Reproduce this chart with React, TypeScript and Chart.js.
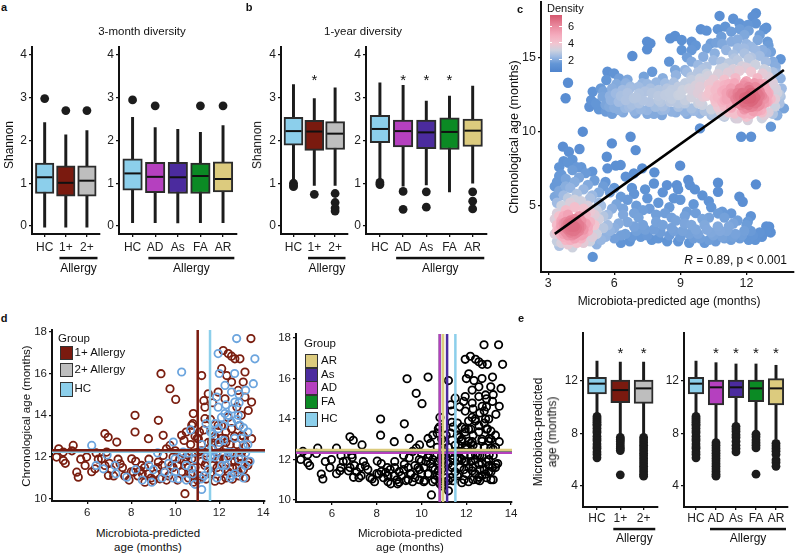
import React, { useEffect, useRef } from "react";
import { Chart, registerables } from "chart.js";

Chart.register(...registerables);

const FONT = '"Liberation Sans", Arial, Helvetica, sans-serif';

// ---------- categories & colours ----------
const overallCats = ["HC", "1+", "2+"];
const subtypeCats = ["HC", "AD", "As", "FA", "AR"];
const groupColor: Record<string, string> = {
  HC: "#8CCFEB",
  "1+": "#7A1A0F",
  "2+": "#BEBEBE",
  AD: "#B540BF",
  As: "#4B2B9E",
  FA: "#0B8A24",
  AR: "#DCCB7E",
};

// ---------- tick values ----------
const shannonTicks = [0, 1, 2, 3, 4];
const mpaTicks = [4, 8, 12];
const cTicksX = [3, 6, 9, 12];
const cTicksY = [5, 10, 15];
const dTicksX = [6, 8, 10, 12, 14];
const dTicksY = [10, 12, 14, 16, 18];
const densityTicks = [2, 4, 6];

// ---------- box stats: [whisker low, q1, median, q3, whisker high] ----------
const div3mOverall = [
  [-0.03, 0.76, 1.14, 1.47, 2.42],
  [-0.03, 0.7, 1.01, 1.41, 2.13],
  [-0.03, 0.7, 1.06, 1.41, 2.23],
];
const div3mOverallOut = [[2.98], [2.7], [2.7]];
const div3mSubtype = [
  [0.08, 0.84, 1.23, 1.57, 2.54],
  [0.08, 0.78, 1.15, 1.49, 2.3],
  [0.07, 0.76, 1.14, 1.49, 2.26],
  [0.08, 0.76, 1.17, 1.47, 2.19],
  [0.08, 0.8, 1.1, 1.5, 2.35],
];
const div3mSubtypeOut = [[2.95], [2.81], [], [2.81], [2.81]];

const div1yOverall = [
  [1.11, 1.89, 2.22, 2.54, 3.31],
  [0.95, 1.77, 2.21, 2.47, 2.98],
  [0.95, 1.79, 2.16, 2.44, 3.23],
];
const div1yOverallOut = [[1.0, 0.95, 0.92], [0.74], [0.76, 0.55, 0.42, 0.35]];
const div1yOverallSig = [1];
const div1ySubtype = [
  [1.1, 1.95, 2.27, 2.59, 3.35],
  [0.93, 1.85, 2.22, 2.48, 3.29],
  [0.96, 1.81, 2.19, 2.48, 2.92],
  [0.8, 1.79, 2.2, 2.53, 3.04],
  [1.0, 1.86, 2.23, 2.5, 3.27],
];
const div1ySubtypeOut = [[1.02, 0.97], [0.81, 0.39], [0.8, 0.44], [], [0.8, 0.58, 0.4]];
const div1ySubtypeSig = [1, 2, 3];

const mpaOverall = [
  [9.46, 11.01, 11.8, 12.28, 13.52],
  [7.85, 10.35, 11.31, 12.08, 13.45],
  [7.9, 10.3, 11.44, 12.08, 13.45],
];
const mpaOverallOut = [
  [9.3, 9.15, 9.0, 8.85, 8.7, 8.6, 8.4, 8.2, 8.05, 7.8, 7.6, 7.45, 7.2, 7.0, 6.85, 6.6, 6.4, 6.15],
  [7.7, 7.55, 7.4, 7.2, 7.0, 6.85, 6.7, 4.85],
  [7.7, 7.5, 7.3, 7.1, 6.9, 6.7, 6.5, 6.3, 6.1, 5.9, 5.7, 5.5, 5.3, 5.1, 4.9, 4.75],
];
const mpaOverallSig = [1, 2];
const mpaSubtype = [
  [9.46, 11.01, 11.8, 12.28, 13.52],
  [7.5, 10.17, 11.52, 12.08, 13.4],
  [8.8, 10.73, 11.52, 12.08, 13.3],
  [8.1, 10.43, 11.44, 12.08, 13.3],
  [7.6, 10.17, 11.44, 12.18, 13.2],
];
const mpaSubtypeOut = [
  [9.3, 9.15, 9.0, 8.85, 8.7, 8.6, 8.4, 8.2, 8.05, 7.8, 7.6, 7.45, 7.2, 7.0, 6.85, 6.6, 6.4, 6.15],
  [7.3, 7.1, 6.9, 6.7, 6.5, 6.3, 6.1, 5.9, 5.7, 5.5, 5.3, 5.1, 4.9, 4.75],
  [8.55, 8.35, 8.15, 7.9, 7.7, 7.4, 7.1, 6.85, 6.6],
  [7.95, 7.75, 7.5, 7.3, 7.1, 6.9, 4.9],
  [7.25, 7.05, 6.85, 6.65, 6.4, 6.0, 5.8, 5.5],
];
const mpaSubtypeSig = [1, 2, 3, 4];

// ---------- panel c: [microbiota-predicted age, chronological age] ----------
const cScatter: [number, number][] = [
  [12.43, 17.97], [12.28, 17.74], [10.78, 17.79], [11.68, 17.29], [12.06, 17.18], [12.43, 17.29], [12.81, 16.89],
  [9.93, 16.89], [10.19, 16.8], [11.04, 17.07], [11.31, 16.73], [11.91, 16.51], [10.86, 16.39], [8.76, 16.44],
  [9.06, 16.17], [7.49, 16.06], [7.64, 15.94], [9.51, 16.06], [8.54, 16.28], [10.38, 15.94], [10.63, 15.99],
  [11.31, 16.06], [12.51, 16.17], [12.96, 16.06], [9.51, 15.49], [9.06, 15.49], [13.11, 15.38], [13.55, 14.87],
  [6.82, 15.09], [7.49, 15.54], [8.49, 14.71], [10.04, 15.04], [10.56, 15.27], [11.08, 15.49], [11.61, 15.61],
  [12.21, 15.72], [12.73, 15.49], [11.91, 15.27], [10.86, 14.71], [11.46, 14.93], [12.21, 15.0], [12.88, 14.71],
  [13.33, 14.37], [9.51, 14.71], [9.81, 14.48], [9.21, 14.15], [10.19, 14.37], [8.76, 14.15], [13.55, 13.58],
  [13.4, 13.92], [11.6, 16.2], [12.0, 15.9], [12.6, 15.1], [11.2, 14.6], [12.4, 14.5], [11.8, 14.4], [10.5, 14.8],
  [13.0, 15.8], [12.9, 17.0], [11.4, 17.6],
  [9.3, 15.0], [9.7, 15.8], [10.2, 15.6], [10.9, 15.9], [11.4, 15.2], [11.9, 15.6], [12.4, 15.5], [12.9, 15.3],
  [13.2, 14.7], [12.1, 16.8], [11.7, 16.9], [10.7, 16.9], [12.6, 16.5], [10.0, 14.2], [11.0, 14.3], [11.6, 14.8],
  [12.1, 14.9], [12.9, 14.1],
  [3.9, 13.29], [3.79, 12.24], [5.69, 14.03], [5.99, 13.92], [6.22, 13.58], [5.64, 13.47], [6.52, 13.25],
  [5.39, 12.91], [5.02, 12.69], [4.95, 12.12], [4.87, 11.67], [5.17, 11.9], [5.47, 12.35], [5.84, 12.12],
  [6.07, 12.57], [6.37, 12.8], [6.74, 13.02], [7.34, 13.7], [7.72, 14.03], [7.27, 13.25], [7.64, 12.91],
  [6.52, 12.12], [6.89, 12.24], [7.12, 11.9], [6.67, 11.67], [6.22, 11.45], [5.62, 11.34], [5.77, 11.67],
  [7.49, 11.45], [8.01, 12.12], [8.31, 12.46], [8.61, 12.8], [8.91, 13.02], [9.21, 13.25], [9.51, 13.47],
  [9.89, 13.58], [10.26, 13.74], [10.71, 13.88], [11.16, 13.97], [11.68, 14.1], [12.21, 14.03], [12.73, 13.92],
  [13.11, 13.47], [13.33, 12.91], [13.55, 12.35], [13.7, 11.56], [12.96, 12.01], [12.66, 11.45], [12.21, 11.67],
  [11.91, 12.01], [11.61, 12.35], [11.31, 12.57], [11.01, 12.12], [10.71, 11.67], [10.56, 12.24], [10.34, 12.8],
  [10.04, 12.35], [9.81, 11.9], [9.51, 11.56], [9.21, 12.12], [8.91, 11.67], [8.54, 12.01], [8.16, 11.45],
  [7.87, 11.67], [8.61, 11.34], [9.21, 11.34], [9.89, 11.22], [10.41, 11.11], [11.01, 11.11], [11.46, 11.22],
  [11.91, 11.22], [12.36, 11.34], [12.81, 11.11], [12.06, 10.78], [11.61, 10.89], [12.13, 12.8], [12.51, 12.57],
  [11.91, 13.25], [11.46, 13.25], [11.01, 13.13], [10.71, 13.13], [12.36, 13.25], [12.81, 13.02], [12.96, 12.46],
  [11.01, 12.8], [12.21, 12.24], [11.76, 11.79], [11.31, 11.67], [9.89, 13.02], [9.51, 12.8], [8.91, 12.46],
  [8.01, 12.8], [8.31, 13.25], [7.12, 12.57], [13.11, 10.33], [11.76, 9.65], [12.21, 9.65], [9.89, 10.21],
  [6.97, 11.22], [8.16, 11.11],
  [5.9, 12.9], [6.1, 13.2], [6.3, 12.4], [6.5, 11.6], [6.7, 12.9], [6.9, 11.4], [7.1, 13.0], [7.3, 12.1],
  [7.5, 11.2], [7.7, 12.6], [7.9, 13.3], [8.1, 12.0], [8.3, 11.5], [8.5, 12.6], [8.7, 13.3], [8.9, 11.9],
  [9.1, 12.8], [9.3, 11.2], [9.5, 12.3], [9.7, 13.1], [9.9, 12.0], [10.1, 11.4], [10.3, 12.6], [10.5, 13.5],
  [10.7, 12.3], [10.9, 11.1], [5.3, 11.5], [5.5, 12.7], [5.9, 11.2], [6.6, 13.5], [7.5, 13.2], [8.2, 13.6],
  [8.8, 13.8], [9.3, 14.0], [9.8, 14.0], [10.2, 13.9], [10.8, 14.2], [11.4, 14.2], [12.0, 14.3], [12.8, 14.2],
  [13.2, 14.0],
  [10.6, 12.0], [10.8, 11.4], [10.9, 12.7], [11.0, 11.0], [11.1, 12.2], [11.2, 13.2], [11.3, 11.6], [11.4, 12.5],
  [11.5, 10.9], [11.6, 11.9], [11.7, 12.9], [11.8, 11.3], [11.9, 12.3], [12.0, 13.4], [12.0, 11.0], [12.1, 11.8],
  [12.2, 12.6], [12.3, 11.4], [12.3, 12.1], [12.4, 13.0], [12.5, 11.7], [12.6, 12.4], [12.7, 10.9], [12.8, 11.9],
  [12.9, 12.8], [13.0, 11.3], [13.1, 12.2], [13.2, 13.3], [13.3, 11.7], [13.4, 12.6], [13.5, 11.9], [12.2, 12.0],
  [12.4, 12.3], [12.1, 12.4], [12.5, 12.0], [11.9, 11.9], [12.6, 11.8], [12.3, 11.7], [12.0, 12.2], [11.8, 12.6],
  [12.7, 12.4], [10.7, 13.0], [11.0, 13.5], [11.5, 13.6], [12.5, 13.6], [13.0, 13.7], [10.4, 11.5], [10.2, 12.4],
  [10.0, 11.8], [9.8, 12.6], [9.6, 11.4], [9.4, 12.9], [9.2, 11.9], [9.0, 12.5], [8.8, 11.3], [8.6, 12.2],
  [8.4, 12.9], [8.2, 11.7], [8.0, 12.4], [7.8, 11.2], [7.6, 12.0], [7.4, 12.7], [7.2, 11.5], [7.0, 12.3],
  [6.8, 11.8], [6.6, 12.6], [6.4, 11.3], [6.2, 12.0], [6.0, 11.6], [5.8, 12.4], [5.6, 11.8], [10.3, 13.2],
  [9.9, 13.4], [9.5, 13.7], [10.6, 12.8], [10.5, 11.2], [11.2, 11.3], [13.4, 11.1], [13.6, 12.9], [12.8, 13.2],
  [12.2, 12.3], [12.4, 11.9], [12.0, 11.6], [12.6, 12.7], [11.7, 12.4], [12.3, 12.6], [12.5, 11.4], [11.9, 11.5],
  [12.8, 12.2], [12.1, 13.0],
  [11.0, 11.7], [11.3, 12.9], [11.6, 12.6], [11.9, 13.1], [12.2, 11.2], [12.5, 12.9], [12.7, 11.3], [13.0, 12.6],
  [13.2, 11.2], [13.3, 12.2], [11.5, 12.2], [11.1, 12.6], [10.9, 12.0], [12.9, 12.0], [12.6, 13.2], [13.5, 12.5],
  [4.57, 9.99], [3.67, 8.98], [3.94, 8.64], [4.42, 8.82], [5.89, 9.2], [6.74, 9.65], [6.97, 8.75], [8.99, 7.7],
  [7.82, 7.25], [7.27, 7.52], [6.07, 7.7], [6.29, 7.74], [5.69, 7.52], [5.66, 8.3], [6.52, 6.96], [6.89, 7.18],
  [9.36, 6.73], [9.43, 6.39], [8.84, 6.39], [8.39, 6.39], [9.66, 6.1], [10.71, 5.94], [10.29, 5.31], [10.71, 4.48],
  [11.31, 4.48], [11.68, 5.61], [11.83, 5.27], [12.43, 6.44], [10.71, 6.55], [12.06, 3.92], [13.03, 3.58],
  [12.88, 3.25], [5.02, 1.55],
  [3.3, 3.1], [3.4, 2.6], [3.5, 3.4], [3.6, 4.0], [3.7, 2.9], [3.8, 3.6], [3.9, 2.4], [4.0, 3.2], [4.1, 3.9],
  [4.2, 2.8], [4.3, 3.5], [4.4, 4.3], [4.5, 3.0], [4.6, 2.5], [4.7, 3.8], [4.8, 3.3], [4.9, 4.6], [5.0, 2.9],
  [5.1, 3.7], [5.2, 3.1], [5.3, 4.1], [5.4, 2.7], [5.5, 3.5], [3.4, 4.5], [3.6, 5.0], [3.8, 4.7], [4.0, 5.2],
  [4.2, 4.9], [4.5, 5.3], [4.8, 5.0], [3.3, 5.6], [3.5, 6.0], [3.7, 5.7], [4.0, 6.2], [4.3, 5.8], [4.6, 6.1],
  [5.0, 5.7], [5.3, 5.2], [3.4, 6.6], [3.6, 7.1], [3.8, 6.8], [4.1, 7.4], [4.4, 6.9], [4.7, 7.2], [5.1, 6.7],
  [3.5, 7.6], [3.9, 7.9], [4.3, 7.6], [3.3, 6.3], [5.5, 6.3], [5.8, 5.9], [3.6, 3.0], [3.9, 3.4], [4.1, 3.6],
  [4.0, 3.8], [3.8, 3.2], [4.2, 3.3], [3.7, 3.8], [4.4, 3.7], [4.6, 3.4], [3.5, 2.3], [4.1, 2.2], [4.9, 2.6],
  [5.2, 2.4], [3.9, 3.6], [4.2, 3.6], [4.0, 3.4], [3.8, 3.9], [4.3, 3.2], [4.1, 3.0], [3.7, 3.4], [4.5, 3.6],
  [3.6, 3.6], [4.0, 4.0], [4.4, 3.3], [3.9, 3.0],
  [3.5, 3.2], [3.7, 3.1], [3.9, 3.8], [4.1, 3.3], [4.3, 3.9], [4.2, 3.1], [3.8, 3.5], [4.0, 3.6], [4.4, 3.5],
  [3.6, 3.8], [4.6, 3.1], [4.2, 4.1], [3.7, 4.3], [4.5, 2.8], [3.4, 3.3], [4.8, 3.6], [4.0, 2.7], [3.9, 4.4],
  [3.4, 3.7], [3.5, 4.3], [3.3, 4.1], [3.6, 2.5], [3.8, 2.7], [4.3, 2.5], [4.5, 4.0], [4.7, 4.4], [4.9, 3.9],
  [5.1, 4.4], [4.6, 4.8], [5.2, 4.7], [5.5, 4.3], [5.4, 5.0], [5.7, 3.7], [5.6, 2.9], [3.4, 5.2], [3.9, 5.5],
  [4.2, 5.4], [4.9, 5.5], [5.3, 5.9], [3.8, 6.3], [4.2, 6.6], [4.8, 6.4], [3.5, 7.0], [4.5, 7.6], [5.0, 7.3],
  [3.7, 8.0], [4.1, 8.1],
  [5.8, 3.3], [6.0, 2.8], [6.2, 3.8], [6.4, 4.4], [6.5, 3.1], [6.7, 2.6], [6.9, 3.6], [7.1, 4.2], [7.2, 2.9],
  [7.4, 3.4], [7.6, 4.8], [7.7, 2.7], [7.9, 3.9], [8.1, 3.2], [8.3, 4.5], [8.4, 2.6], [8.6, 3.5], [8.8, 4.0],
  [9.0, 2.9], [9.1, 3.3], [9.3, 4.6], [9.5, 3.7], [9.6, 2.8], [9.8, 3.1], [10.0, 4.1], [10.2, 3.4], [10.3, 2.7],
  [10.5, 3.0], [10.7, 3.6], [10.9, 2.9], [11.1, 3.3], [11.3, 2.7], [11.5, 3.1], [11.7, 2.8], [11.9, 3.3],
  [12.1, 2.7], [12.3, 3.0], [12.6, 3.2], [12.9, 3.6], [6.1, 5.1], [6.6, 5.4], [7.0, 5.0], [7.5, 5.5], [8.0, 5.2],
  [8.5, 4.9], [9.0, 5.4], [9.7, 4.5], [10.4, 4.9], [11.0, 4.2], [8.2, 5.9], [5.7, 4.4], [6.3, 2.5], [5.9, 4.8],
  [10.1, 2.5], [9.4, 2.5], [11.6, 4.0], [12.0, 3.7], [8.9, 6.1], [7.8, 6.5], [6.8, 6.2], [5.6, 6.6],
  [6.0, 3.5], [6.3, 3.0], [6.6, 3.9], [6.8, 2.9], [7.0, 3.3], [7.3, 3.7], [7.5, 3.0], [7.8, 3.4], [8.0, 2.8],
  [8.2, 3.7], [8.5, 3.0], [8.7, 3.3], [8.9, 2.6], [9.2, 3.8], [9.4, 3.1], [9.7, 3.4], [9.9, 2.8], [10.1, 3.7],
  [10.4, 3.2], [10.6, 2.6], [10.8, 3.3], [11.0, 2.8], [11.2, 3.6], [11.4, 2.9], [11.8, 3.0], [12.2, 3.3],
  [12.4, 2.7], [12.7, 2.9], [6.4, 4.8], [6.9, 4.5], [7.3, 4.7], [7.9, 4.4], [8.6, 4.2], [9.2, 4.3], [10.3, 4.2],
  [10.9, 4.6], [11.4, 3.8], [12.2, 4.3], [13.1, 3.2], [6.0, 6.2], [6.3, 5.6], [6.9, 5.8], [7.4, 6.1], [8.7, 5.5],
  [9.6, 5.1], [10.0, 5.7],
];
const cFit: [number, number][] = [[3.3, 3.1], [13.7, 14.15]];
const cStat = "= 0.89, p < 0.001";

// ---------- panel d: [microbiota-predicted age, chronological age] ----------
const dAllergy: [number, number][] = [
  [13.44, 17.67], [12.18, 17.1], [12.56, 16.83], [12.71, 16.7], [12.94, 16.7], [12.41, 16.95], [9.35, 15.99],
  [9.76, 15.27], [10.02, 14.76], [11.5, 15.03], [11.2, 15.9], [12.34, 15.9], [13.17, 16.07], [13.09, 15.59],
  [12.11, 16.23], [12.56, 15.59], [12.86, 15.19], [11.95, 15.11], [12.26, 14.79], [13.17, 14.87], [13.47, 14.63],
  [13.32, 14.23], [8.17, 14.0], [9.23, 13.76], [8.17, 13.2], [6.8, 13.12], [6.95, 12.95], [7.34, 12.72],
  [8.78, 12.88], [9.45, 13.04], [9.76, 12.56], [10.29, 13.04], [10.75, 13.52], [10.82, 14.08], [11.35, 13.84],
  [11.35, 14.39], [11.65, 13.2], [11.95, 13.52], [12.56, 13.36], [13.02, 13.04], [13.47, 12.88], [5.36, 12.56],
  [4.91, 12.24], [4.91, 11.84], [5.52, 11.28], [5.59, 11.04], [5.97, 12.0], [6.65, 11.92], [6.88, 12.24],
  [6.35, 11.44], [6.96, 11.12], [7.49, 11.68], [8.02, 11.92], [8.09, 11.28], [8.47, 11.6], [8.78, 11.2],
  [9.0, 10.88], [9.3, 10.96], [8.62, 10.8], [8.4, 11.36], [9.23, 11.76], [9.45, 12.08], [9.84, 11.6],
  [10.29, 11.28], [10.44, 10.25], [10.82, 10.8], [10.75, 11.92], [11.05, 12.24], [11.35, 11.6], [11.65, 11.28],
  [11.95, 11.92], [12.26, 11.44], [12.56, 11.76], [12.86, 11.28], [11.65, 12.72], [11.95, 12.56], [12.26, 12.88],
  [11.05, 12.88], [13.02, 12.24], [13.32, 11.76],
  [10.3, 11.3], [10.5, 12.0], [10.6, 11.0], [10.7, 12.6], [10.9, 11.5], [11.0, 12.9], [11.1, 11.1], [11.2, 12.3],
  [11.3, 13.3], [11.4, 11.7], [11.5, 12.7], [11.6, 11.2], [11.7, 12.1], [11.8, 13.0], [11.9, 11.5], [12.0, 12.5],
  [12.1, 10.9], [12.2, 11.9], [12.3, 13.2], [12.4, 11.3], [12.5, 12.2], [12.6, 10.95], [12.7, 11.8], [12.8, 12.6],
  [12.9, 11.1], [13.0, 12.0], [13.1, 11.4], [13.2, 12.5], [13.3, 11.6], [10.8, 13.6], [11.6, 13.8], [12.4, 13.9],
  [10.4, 12.8], [10.2, 11.9], [11.0, 10.9], [11.8, 10.85], [12.3, 12.7], [12.9, 13.5], [11.4, 12.2], [12.1, 12.9],
  [10.6, 11.5], [11.2, 11.8], [12.6, 11.5], [13.1, 13.0], [10.0, 12.3], [9.7, 11.1], [9.9, 11.5], [10.1, 10.9],
  [9.5, 11.3], [9.6, 12.4], [9.2, 11.5], [8.9, 11.0], [8.6, 11.5], [8.3, 11.1], [8.0, 11.3], [7.7, 11.1],
  [7.4, 11.9], [7.1, 11.4], [6.8, 11.6], [6.5, 11.9], [6.2, 11.3], [5.7, 11.9], [5.3, 12.3], [5.0, 11.7],
  [4.7, 12.4], [4.6, 12.0],
  [7.2, 11.1], [7.6, 11.5], [7.9, 10.9], [8.2, 11.8], [8.5, 11.2], [8.8, 11.9], [9.1, 11.2], [9.4, 11.6],
  [9.6, 10.9], [9.9, 12.0], [10.1, 11.6], [10.4, 11.8], [10.7, 11.2], [10.9, 12.2], [11.1, 13.2], [11.4, 10.95],
  [11.7, 11.6], [12.0, 11.9], [12.3, 11.0], [12.5, 12.6], [12.8, 11.5], [13.0, 11.7], [13.2, 11.0], [12.2, 12.2],
  [11.5, 12.4], [10.9, 13.0], [11.8, 12.9], [12.7, 13.0], [12.1, 13.5], [11.3, 14.7], [12.8, 14.4], [13.0, 14.0],
  [11.7, 14.6], [10.5, 13.2], [7.0, 11.7], [6.4, 12.2], [5.9, 11.6],
];
const dHC: [number, number][] = [
  [12.79, 17.67], [11.95, 16.95], [13.62, 16.7], [10.29, 16.07], [13.55, 15.51], [12.26, 15.43], [12.56, 15.11],
  [11.88, 14.87], [12.71, 14.63], [11.95, 14.39], [12.26, 14.08], [12.86, 14.0], [12.56, 13.67], [12.94, 13.52],
  [11.95, 13.36], [6.2, 12.56], [7.79, 11.04], [8.93, 10.8], [9.53, 11.28], [9.99, 11.92], [9.91, 12.72],
  [10.36, 12.24], [10.75, 11.44], [11.2, 10.96], [11.2, 10.45], [11.8, 12.0], [12.11, 11.6], [12.56, 11.12],
  [13.09, 12.56], [13.17, 11.6], [13.4, 11.8], [11.65, 12.4], [12.41, 12.24], [6.73, 11.44], [7.26, 11.6],
  [10.14, 10.96],
  [10.6, 12.2], [10.9, 11.9], [11.2, 12.6], [11.5, 11.4], [11.7, 13.1], [11.9, 12.2], [12.0, 11.3], [12.2, 13.5],
  [12.4, 12.0], [12.5, 11.0], [12.7, 12.9], [12.8, 13.8], [12.9, 11.9], [13.0, 12.9], [13.1, 11.0], [13.2, 12.2],
  [12.3, 14.5], [12.6, 14.3], [12.9, 14.6], [12.1, 13.9], [11.6, 12.0], [11.3, 11.1], [10.8, 11.2], [10.5, 10.9],
  [10.3, 12.1], [10.0, 11.3], [9.7, 11.7], [9.4, 11.0], [9.2, 12.2], [8.8, 11.6], [8.5, 10.9], [8.2, 11.4],
  [7.3, 11.2], [6.9, 12.1], [6.4, 11.6], [13.3, 12.6], [12.0, 12.7], [11.4, 13.6], [10.7, 13.3],
  [11.9, 11.0], [12.3, 11.6], [12.7, 11.2], [13.0, 11.4], [12.6, 12.2], [12.2, 12.8], [11.8, 13.6], [13.1, 13.4],
  [12.4, 14.0], [13.3, 13.2], [11.4, 12.0], [10.9, 10.7], [10.5, 11.6], [9.9, 11.0], [9.0, 11.4], [12.9, 15.0],
  [13.2, 15.2], [12.0, 16.0], [12.7, 16.0], [11.6, 13.2],
];
// group means (reference lines)
const dLeftMeansX = [
  { v: 11.02, c: "#7A1A0F" },
  { v: 11.58, c: "#8CCFEB" },
];
const dLeftMeansY = [
  { v: 12.26, c: "#8CCFEB" },
  { v: 12.33, c: "#7A1A0F" },
];
const dRightMeansX = [
  { v: 11.51, c: "#8CCFEB" },
  { v: 11.14, c: "#4B2B9E" },
  { v: 10.82, c: "#0B8A24" },
  { v: 10.81, c: "#B540BF" },
  { v: 10.96, c: "#DCCB7E" },
];
const dRightMeansY = [
  { v: 12.36, c: "#8CCFEB" },
  { v: 12.4, c: "#4B2B9E" },
  { v: 12.38, c: "#0B8A24" },
  { v: 12.33, c: "#B540BF" },
  { v: 12.47, c: "#DCCB7E" },
];

// density colour scale
const densityStops: [number, string][] = [
  [0.5, "#4F84CD"],
  [1.5, "#6396D6"],
  [2.3, "#9BB9E2"],
  [3.1, "#CDD2DF"],
  [3.9, "#F2C5D0"],
  [4.9, "#F5ACBE"],
  [6.0, "#EA8A9F"],
  [7.32, "#D5576E"],
];

// ---------- helpers ----------
function hexToRgb(h: string) {
  const n = parseInt(h.slice(1), 16);
  return [(n >> 16) & 255, (n >> 8) & 255, n & 255];
}
function densityColor(v: number) {
  const s = densityStops;
  if (v <= s[0][0]) return s[0][1];
  if (v >= s[s.length - 1][0]) return s[s.length - 1][1];
  for (let i = 0; i < s.length - 1; i++) {
    if (v >= s[i][0] && v <= s[i + 1][0]) {
      const t = (v - s[i][0]) / (s[i + 1][0] - s[i][0]);
      const a = hexToRgb(s[i][1]);
      const b = hexToRgb(s[i + 1][1]);
      const c = a.map((x, k) => Math.round(x + (b[k] - x) * t));
      return `rgb(${c[0]},${c[1]},${c[2]})`;
    }
  }
  return s[0][1];
}
function pointDensity(pts: [number, number][]) {
  const sx = 22.3;
  const sy = 14.85;
  const s2 = 2 * 16 * 16;
  const raw = pts.map(([x1, y1]) =>
    pts.reduce((acc, [x2, y2]) => {
      const dx = (x1 - x2) * sx;
      const dy = (y1 - y2) * sy;
      return acc + Math.exp(-(dx * dx + dy * dy) / s2);
    }, 0)
  );
  const lo = Math.min(...raw);
  const hi = Math.max(...raw);
  return raw.map((r) => 1 + 6.1 * Math.pow((r - lo) / (hi - lo), 1.7));
}

function linAxis(min: number, max: number, ticks: number[], label: (v: number, i: number) => string, size: number, pad: number) {
  return {
    type: "linear",
    min,
    max,
    bounds: "data",
    offset: false,
    afterBuildTicks: (s: any) => {
      s.ticks = ticks.map((v) => ({ value: v }));
    },
    ticks: {
      autoSkip: false,
      maxRotation: 0,
      minRotation: 0,
      padding: pad,
      color: "#1e1e1e",
      font: { family: FONT, size },
      callback: (v: any, i: number) => label(Number(v), i),
    },
    grid: { drawOnChartArea: false, drawTicks: true, tickLength: 3, color: "#111", lineWidth: 1.3, offset: false },
    border: { display: true, color: "#111", width: 2 },
  };
}

type Geo = { L: number; T: number; R: number; B: number; yW: number; xH: number; below: number; right: number };

function ChartBox({ geo, build }: { geo: Geo; build: () => any }) {
  const ref = useRef<HTMLCanvasElement | null>(null);
  const left = geo.L - geo.yW;
  const top = geo.T - 12;
  const width = geo.R + geo.right - left;
  const height = geo.B + geo.xH + geo.below - top;
  useEffect(() => {
    if (!ref.current) return;
    const cfg = build();
    cfg.options = cfg.options || {};
    cfg.options.responsive = false;
    cfg.options.maintainAspectRatio = false;
    cfg.options.animation = false;
    cfg.options.events = [];
    cfg.options.layout = { padding: { top: 12, left: 0, right: geo.right, bottom: geo.below } };
    cfg.options.scales.x.afterFit = (s: any) => {
      s.height = geo.xH;
    };
    cfg.options.scales.y.afterFit = (s: any) => {
      s.width = geo.yW;
    };
    cfg.options.plugins = { legend: { display: false }, tooltip: { enabled: false } };
    const chart = new Chart(ref.current, cfg);
    return () => chart.destroy();
  }, []);
  return (
    <canvas
      ref={ref}
      width={width}
      height={height}
      style={{ position: "absolute", left, top, width, height, display: "block" }}
    />
  );
}

function boxExtras(stats: number[][], halfW: number, sig: number[], starV: number, lineDy: number, textDy: number) {
  return {
    id: "boxExtras",
    afterDatasetsDraw(chart: any) {
      const { ctx, scales } = chart;
      const x = scales.x;
      const y = scales.y;
      ctx.save();
      ctx.strokeStyle = "#111";
      ctx.lineWidth = 2;
      stats.forEach((s, i) => {
        const cx = x.getPixelForValue(i);
        const py = y.getPixelForValue(s[2]);
        ctx.beginPath();
        ctx.moveTo(cx - halfW + 1.5, py);
        ctx.lineTo(cx + halfW - 1.5, py);
        ctx.stroke();
      });
      ctx.restore();
    },
    afterDraw(chart: any) {
      const { ctx, scales, chartArea } = chart;
      const x = scales.x;
      const y = scales.y;
      ctx.save();
      ctx.fillStyle = "#111";
      ctx.font = `15px ${FONT}`;
      ctx.textAlign = "center";
      ctx.textBaseline = "middle";
      sig.forEach((i) => {
        ctx.fillText("*", x.getPixelForValue(i), y.getPixelForValue(starV) + 3);
      });
      const x0 = x.getPixelForValue(0.7);
      const x1 = x.getPixelForValue(stats.length - 0.5);
      ctx.fillRect(x0, chartArea.bottom + lineDy - 1.2, x1 - x0, 2.5);
      ctx.font = `12px ${FONT}`;
      ctx.fillText("Allergy", (x0 + x1) / 2, chartArea.bottom + textDy);
      ctx.restore();
    },
  };
}

function boxChart(
  cats: string[],
  stats: number[][],
  outliers: number[][],
  sig: number[],
  yMin: number,
  yMax: number,
  yTicks: number[],
  barW: number,
  starV: number,
  lineDy: number,
  textDy: number,
  xPad: number
) {
  return () => {
    const whiskers = stats.map((s, i) => ({ x: i, y: [s[0], s[4]] }));
    const boxes = stats.map((s, i) => ({ x: i, y: [s[1], s[3]] }));
    const outs = outliers.flatMap((arr, i) => arr.map((v) => ({ x: i, y: v })));
    return {
      type: "bar",
      data: {
        datasets: [
          {
            type: "scatter",
            data: outs,
            order: 1,
            pointRadius: 4.4,
            pointBackgroundColor: "#1c1c1c",
            pointBorderWidth: 0,
            clip: false,
          },
          {
            type: "bar",
            data: boxes,
            order: 2,
            grouped: false,
            barThickness: barW,
            backgroundColor: cats.map((c) => groupColor[c]),
            borderColor: "#2b2b2b",
            borderWidth: 2,
            borderSkipped: false,
          },
          {
            type: "bar",
            data: whiskers,
            order: 3,
            grouped: false,
            barThickness: 2.3,
            backgroundColor: "#1c1c1c",
            borderWidth: 0,
          },
        ],
      },
      options: {
        scales: {
          x: linAxis(-0.6, cats.length - 0.4, cats.map((_, i) => i), (_v, i) => cats[i], 12, xPad),
          y: linAxis(yMin, yMax, yTicks, (v) => String(v), 12, 2),
        },
      },
      plugins: [boxExtras(stats, barW / 2, sig, starV, lineDy, textDy)],
    };
  };
}

function refLines(vs: { v: number; c: string }[], hs: { v: number; c: string }[]) {
  return {
    id: "refLines",
    afterDatasetsDraw(chart: any) {
      const { ctx, chartArea: a, scales } = chart;
      ctx.save();
      ctx.lineWidth = 2.5;
      hs.forEach((l) => {
        const py = scales.y.getPixelForValue(l.v);
        ctx.strokeStyle = l.c;
        ctx.beginPath();
        ctx.moveTo(a.left, py);
        ctx.lineTo(a.right, py);
        ctx.stroke();
      });
      vs.forEach((l) => {
        const px = scales.x.getPixelForValue(l.v);
        ctx.strokeStyle = l.c;
        ctx.beginPath();
        ctx.moveTo(px, a.top);
        ctx.lineTo(px, a.bottom);
        ctx.stroke();
      });
      ctx.restore();
    },
  };
}

function ringSet(pts: [number, number][], color: string) {
  return {
    data: pts.map(([x, y]) => ({ x, y })),
    pointRadius: 3.7,
    pointBorderWidth: 1.8,
    pointBorderColor: color,
    pointBackgroundColor: "rgba(0,0,0,0)",
    clip: false,
  };
}

function dChart(sets: any[], xMin: number, xMax: number, yMin: number, yMax: number, vs: any[], hs: any[]) {
  return () => ({
    type: "scatter",
    data: { datasets: sets },
    options: {
      scales: {
        x: linAxis(xMin, xMax, dTicksX, (v) => String(v), 11.5, 2),
        y: linAxis(yMin, yMax, dTicksY, (v) => String(v), 11.5, 2),
      },
    },
    plugins: [refLines(vs, hs)],
  });
}

function cChart() {
  const dens = pointDensity(cScatter);
  const order = cScatter.map((_, i) => i).sort((a, b) => dens[a] - dens[b]);
  const pts = order.map((i) => ({ x: cScatter[i][0], y: cScatter[i][1] }));
  const cols = order.map((i) => densityColor(dens[i]));
  return {
    type: "scatter",
    data: {
      datasets: [
        {
          type: "line",
          data: cFit.map(([x, y]) => ({ x, y })),
          borderColor: "#000",
          borderWidth: 2.6,
          pointRadius: 0,
          order: 1,
        },
        {
          data: pts,
          pointRadius: 5.2,
          pointBackgroundColor: cols,
          pointBorderWidth: 0,
          order: 2,
          clip: false,
        },
      ],
    },
    options: {
      scales: {
        x: linAxis(2.673, 14.15, cTicksX, (v) => String(v), 12.5, 1),
        y: linAxis(0.533, 18.73, cTicksY, (v) => String(v), 12.5, 2),
      },
    },
  };
}

// ---------- text helpers ----------
function Lbl({ x, y, children, size = 12, align = "center", rot = false, weight = 400, lh = 1.15 }: any) {
  const tx = align === "center" ? "-50%" : align === "right" ? "-100%" : "0";
  return (
    <div
      style={{
        position: "absolute",
        left: x,
        top: y,
        transform: `translate(${tx}, -50%)${rot ? " rotate(-90deg)" : ""}`,
        fontSize: size,
        fontWeight: weight,
        lineHeight: lh,
        whiteSpace: "nowrap",
        textAlign: "center",
        color: "#111",
        fontFamily: FONT,
      }}
    >
      {children}
    </div>
  );
}

function Swatch({ x, y, w, h, color }: any) {
  return (
    <div
      style={{
        position: "absolute",
        left: x,
        top: y,
        width: w,
        height: h,
        background: color,
        border: "1.5px solid #333",
        boxSizing: "border-box",
      }}
    />
  );
}

const geoAL: Geo = { L: 32, T: 47, R: 100, B: 234, yW: 30, xH: 22, below: 30, right: 4 };
const geoAR: Geo = { L: 119, T: 47, R: 237, B: 234, yW: 30, xH: 22, below: 30, right: 4 };
const geoBL: Geo = { L: 281, T: 47, R: 348, B: 234, yW: 30, xH: 22, below: 30, right: 4 };
const geoBR: Geo = { L: 366, T: 47, R: 487, B: 234, yW: 30, xH: 22, below: 30, right: 4 };
const geoC: Geo = { L: 541, T: 2, R: 797, B: 272, yW: 26, xH: 22, below: 2, right: 2 };
const geoDL: Geo = { L: 52, T: 330, R: 265, B: 501, yW: 26, xH: 20, below: 2, right: 12 };
const geoDR: Geo = { L: 296, T: 334, R: 512, B: 502, yW: 26, xH: 20, below: 2, right: 12 };
const geoEL: Geo = { L: 583, T: 333, R: 658, B: 507, yW: 26, xH: 18, below: 30, right: 4 };
const geoER: Geo = { L: 684, T: 333, R: 788, B: 507, yW: 26, xH: 18, below: 30, right: 6 };

const densTop = 7.32;
const densBottom = 0.51;
const barTopPx = 15;
const barHeightPx = 57;

export default function App() {
  const gradient =
    "linear-gradient(to bottom, " +
    densityStops
      .slice()
      .reverse()
      .map(([v, c]) => `${c} ${(((densTop - v) / (densTop - densBottom)) * 100).toFixed(1)}%`)
      .join(", ") +
    ")";
  return (
    <div
      style={{
        position: "fixed",
        left: 0,
        top: 0,
        width: 800,
        height: 556,
        background: "#fff",
        overflow: "hidden",
        fontFamily: FONT,
      }}
    >
      <ChartBox geo={geoAL} build={boxChart(overallCats, div3mOverall, div3mOverallOut, [], -0.187, 4.187, shannonTicks, 18.5, 3.47, 24, 35, 3)} />
      <ChartBox geo={geoAR} build={boxChart(subtypeCats, div3mSubtype, div3mSubtypeOut, [], -0.187, 4.187, shannonTicks, 19.5, 3.47, 24, 35, 3)} />
      <ChartBox geo={geoBL} build={boxChart(overallCats, div1yOverall, div1yOverallOut, div1yOverallSig, -0.187, 4.187, shannonTicks, 19, 3.47, 24, 35, 3)} />
      <ChartBox geo={geoBR} build={boxChart(subtypeCats, div1ySubtype, div1ySubtypeOut, div1ySubtypeSig, -0.187, 4.187, shannonTicks, 19.5, 3.47, 24, 35, 3)} />
      <ChartBox geo={geoC} build={cChart} />
      <ChartBox
        geo={geoDL}
        build={dChart([ringSet(dHC, "#6CA5DE"), ringSet(dAllergy, "#7A1E10")], 4.395, 14.08, 9.9, 18.08, dLeftMeansX, dLeftMeansY)}
      />
      <ChartBox
        geo={geoDR}
        build={dChart([ringSet(dHC, "#000"), ringSet(dAllergy, "#000")], 4.39, 14.04, 9.9, 18.2, dRightMeansX, dRightMeansY)}
      />
      <ChartBox geo={geoEL} build={boxChart(overallCats, mpaOverall, mpaOverallOut, mpaOverallSig, 2.4, 15.66, mpaTicks, 19, 14.3, 22, 32, 1)} />
      <ChartBox geo={geoER} build={boxChart(subtypeCats, mpaSubtype, mpaSubtypeOut, mpaSubtypeSig, 2.4, 15.66, mpaTicks, 15.5, 14.3, 22, 32, 1)} />

      {/* panel letters */}
      <Lbl x={4} y={7} size={11} weight={700}>a</Lbl>
      <Lbl x={249} y={7} size={11} weight={700}>b</Lbl>
      <Lbl x={520} y={9} size={11} weight={700}>c</Lbl>
      <Lbl x={4} y={318} size={11} weight={700}>d</Lbl>
      <Lbl x={521} y={318} size={11} weight={700}>e</Lbl>

      {/* panel a / b titles */}
      <Lbl x={142} y={32} size={11.5}>3-month diversity</Lbl>
      <Lbl x={363} y={32} size={11.5}>1-year diversity</Lbl>
      <Lbl x={10} y={145} size={12} rot>Shannon</Lbl>
      <Lbl x={258} y={145} size={12} rot>Shannon</Lbl>

      {/* panel c titles, legend, stat */}
      <Lbl x={514} y={137} size={12.5} rot>Chronological age (months)</Lbl>
      <Lbl x={669} y={302} size={12}>Microbiota-predicted age (months)</Lbl>
      <Lbl x={547} y={8} size={11} align="left">Density</Lbl>
      <div
        style={{
          position: "absolute",
          left: 549.5,
          top: barTopPx,
          width: 12,
          height: barHeightPx,
          background: gradient,
        }}
      />
      {densityTicks.map((t) => {
        const py = barTopPx + ((densTop - t) / (densTop - densBottom)) * barHeightPx;
        return (
          <React.Fragment key={t}>
            <div style={{ position: "absolute", left: 549.5, top: py - 0.5, width: 2.5, height: 1, background: "#fff" }} />
            <div style={{ position: "absolute", left: 559, top: py - 0.5, width: 2.5, height: 1, background: "#fff" }} />
            <Lbl x={568} y={py} size={11} align="left">{String(t)}</Lbl>
          </React.Fragment>
        );
      })}
      <Lbl x={787} y={261} size={12} align="right">
        <i>R</i> {cStat}
      </Lbl>

      {/* panel d titles & legends */}
      <Lbl x={27} y={416} size={11.5} rot>Chronological age (months)</Lbl>
      <Lbl x={148} y={541} size={11.5} lh={1.2}>
        Microbiota-predicted
        <br />
        age (months)
      </Lbl>
      <Lbl x={410} y={541} size={11.5} lh={1.2}>
        Microbiota-predicted
        <br />
        age (months)
      </Lbl>

      <Lbl x={58} y={339} size={11.5} align="left">Group</Lbl>
      <Swatch x={59.5} y={346} w={13} h={14} color={groupColor["1+"]} />
      <Swatch x={59.5} y={362.5} w={13} h={14} color={groupColor["2+"]} />
      <Swatch x={59.5} y={381.5} w={13} h={15} color={groupColor.HC} />
      <Lbl x={74.5} y={353} size={11.5} align="left">1+ Allergy</Lbl>
      <Lbl x={74.5} y={369.5} size={11.5} align="left">2+ Allergy</Lbl>
      <Lbl x={74.5} y={389} size={11.5} align="left">HC</Lbl>

      <Lbl x={304} y={344} size={11.5} align="left">Group</Lbl>
      <Swatch x={304.5} y={354} w={13} h={14} color={groupColor.AR} />
      <Swatch x={304.5} y={367.5} w={13} h={14} color={groupColor.As} />
      <Swatch x={304.5} y={381} w={13} h={14} color={groupColor.AD} />
      <Swatch x={304.5} y={394.5} w={13} h={14} color={groupColor.FA} />
      <Swatch x={304.5} y={411.5} w={13} h={15} color={groupColor.HC} />
      <Lbl x={321} y={361} size={11.5} align="left">AR</Lbl>
      <Lbl x={321} y={374.5} size={11.5} align="left">As</Lbl>
      <Lbl x={321} y={388} size={11.5} align="left">AD</Lbl>
      <Lbl x={321} y={401.5} size={11.5} align="left">FA</Lbl>
      <Lbl x={321} y={419} size={11.5} align="left">HC</Lbl>

      {/* panel e y title (two lines) */}
      <Lbl x={539} y={432} size={12} rot>Microbiota-predicted</Lbl>
      <Lbl x={553} y={432} size={12} rot>age (months)</Lbl>
    </div>
  );
}
